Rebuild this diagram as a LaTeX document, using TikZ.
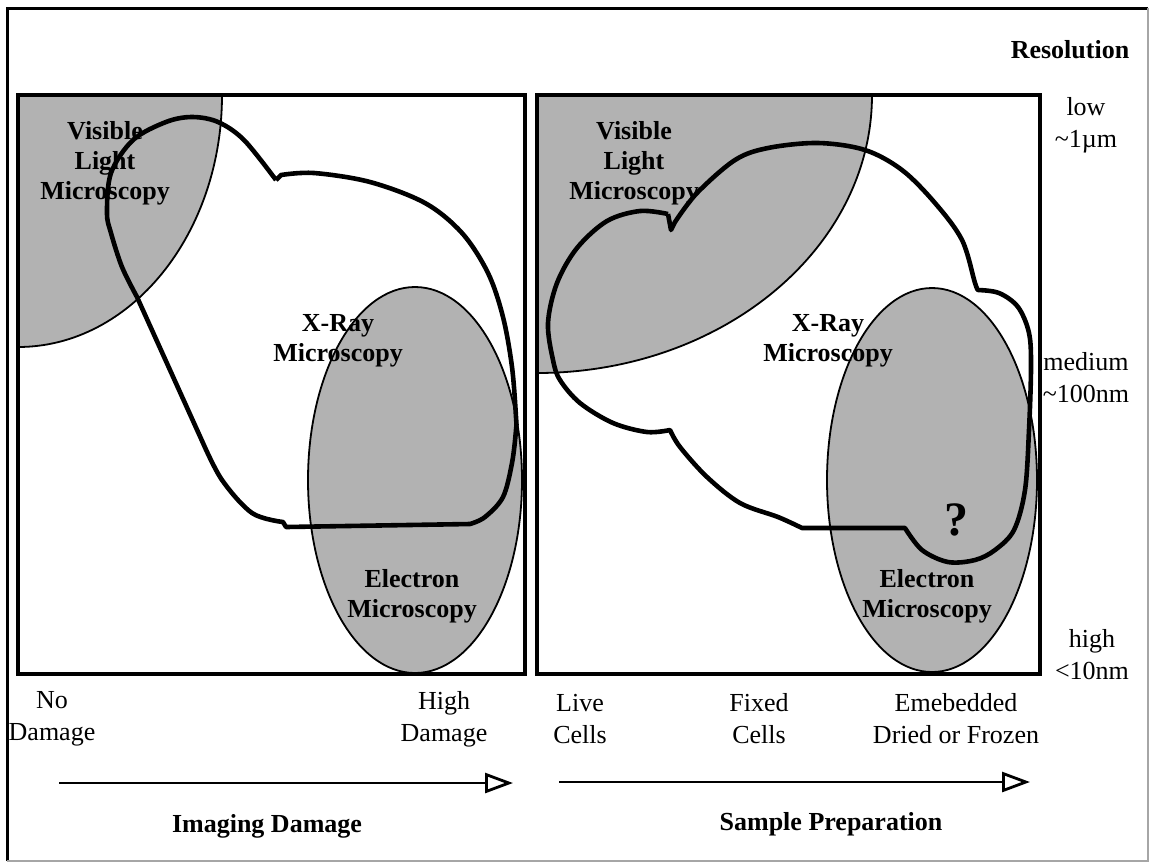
\documentclass[tikz,border=0pt]{standalone}
\usepackage{fontspec}
\setmainfont{Liberation Serif}
\usetikzlibrary{arrows.meta, positioning}

\begin{document}
\begin{tikzpicture}[
  x=0.5pt, y=-0.5pt,
  every node/.style={align=center, inner sep=0pt},
  frame/.style={draw=black, line width=1.5pt},
  panel/.style={draw=black, line width=1.6pt},
  region/.style={fill=black!30, draw=black, line width=0.9pt},
  xray/.style={draw=black, line width=2.3pt, line join=round},
  lbl/.style={font=\bfseries\fontsize{13}{15}\selectfont},
  tick/.style={font=\fontsize{13}{16}\selectfont},
  ttl/.style={font=\bfseries\fontsize{13}{16}\selectfont},
  axisarr/.style={-{Triangle[open, length=14pt, width=10pt]}, line width=1.4pt},
]
\useasboundingbox (0,0) rectangle (1151,864);

% ---------------------------------------------------------------- outer frame
\draw[frame] (7,861) -- (7,8) -- (1148,8);
\draw[draw=black!35, line width=0.6pt] (1148,8) -- (1148,861) -- (7,861);

% ------------------------------------------------------ left panel: damage
\begin{scope}
  \clip (18,95) rectangle (525,674);
  \draw[region] (18,95) ellipse [x radius=204, y radius=252];
\end{scope}
\draw[region] (415,480) ellipse [x radius=107, y radius=193];
\draw[xray] plot[smooth, tension=0.55] coordinates {(276,180) (244,140) (218,122) (192,117) (166,122) (133,140) (111,173) (107,213) (111,233) (122,267) (137,297)}
  -- (203,443)
  -- plot[smooth, tension=0.55] coordinates {(203,443) (222,480) (252,513) (283,522)}
  -- (286,527) -- (470,524)
  -- plot[smooth, tension=0.55] coordinates {(470,524) (485,517) (503,497) (512,463) (516,430) (516,417) (512,367) (503,317) (488,273) (462,233) (425,203) (370,182) (314,173) (281,175)}
  -- (276,180);
\draw[panel] (18,95) rectangle (525,674);

\node[lbl] (visA)  at (105,163) {Visible\\Light\\Microscopy};
\node[lbl] (xrayA) at (338,341) {X-Ray\\Microscopy};
\node[lbl] (elecA) at (412,596) {Electron\\Microscopy};

% ------------------------------------------------ right panel: preparation
\begin{scope}
  \clip (537,95) rectangle (1040,674);
  \draw[region] (537,95) ellipse [x radius=335, y radius=278];
\end{scope}
\draw[region] (932,480) ellipse [x radius=105, y radius=192];
\draw[xray] plot[smooth, tension=0.55] coordinates {(668,214) (640,211) (607,221) (577,248) (557,283) (548,323) (553,360) (560,380) (580,403) (613,423) (647,432) (670,430)}
  -- plot[smooth, tension=0.55] coordinates {(670,430) (680,447) (707,477) (740,503) (778,517) (802,528)}
  -- (905,528)
  -- plot[smooth, tension=0.55] coordinates {(905,528) (922,550) (948,562) (975,560) (995,550) (1014,530) (1025,490) (1029,430) (1031,367) (1029,333) (1018,307) (999,293) (978,290)}
  -- plot[smooth, tension=0.55] coordinates {(978,290) (975,283) (962,240) (935,203) (902,170) (865,150) (818,143) (768,148) (735,160) (697,193) (675,222)}
  -- (671,230) -- (668,214);
\draw[panel] (537,95) rectangle (1040,674);

\node[lbl] (visB)  at (634,163) {Visible\\Light\\Microscopy};
\node[lbl] (xrayB) at (828,341) {X-Ray\\Microscopy};
\node[lbl] (elecB) at (927,596) {Electron\\Microscopy};
\node[font=\bfseries\fontsize{24}{24}\selectfont] (unknown) at (956,520) {?};

% ------------------------------------------------------- resolution scale
\node[ttl]  (resol) at (1070,50)  {Resolution};
\node[tick] (rlow)  at (1086,125) {low\\\textasciitilde1µm};
\node[tick] (rmed)  at (1086,378) {medium\\\textasciitilde100nm};
\node[tick] (rhigh) at (1092,655) {high\\<10nm};

% ---------------------------------------------------------- bottom labels
\node[tick] (nodmg)  at (52,719)  {No\\Damage};
\node[tick] (hidmg)  at (444,719) {High\\Damage};
\node[tick] (live)   at (580,719) {Live\\Cells};
\node[tick] (fixed)  at (759,719) {Fixed\\Cells};
\node[tick] (embed)  at (956,719) {Emebedded\\Dried or Frozen};

% ------------------------------------------------------------------ arrows
\coordinate (dmgA) at (59,783);
\coordinate (dmgB) at (513,783);
\coordinate (prepA) at (559,782);
\coordinate (prepB) at (1030,782);
\draw[axisarr] (dmgA) -- (dmgB);
\draw[axisarr] (prepA) -- (prepB);

\node[ttl] (dmgttl)  at (267,826) {Imaging Damage};
\node[ttl] (prepttl) at (831,824) {Sample Preparation};

\end{tikzpicture}
\end{document}
